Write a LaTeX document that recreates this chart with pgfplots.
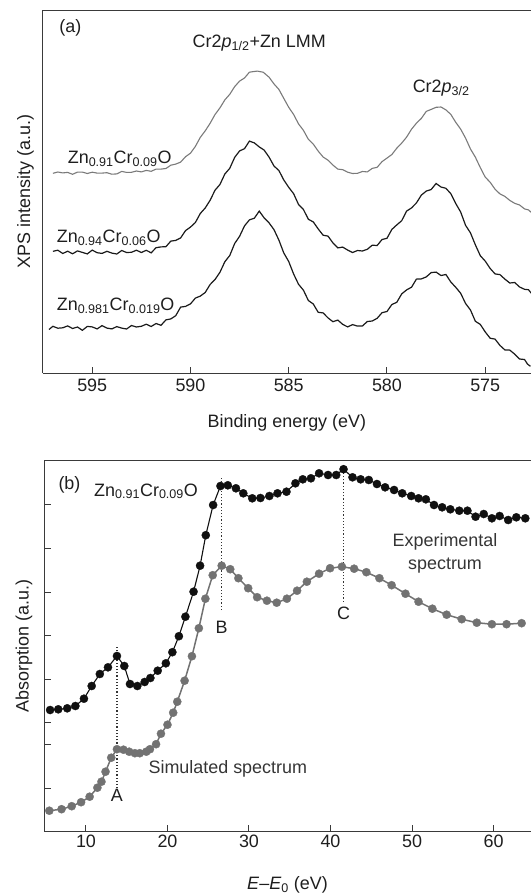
\documentclass[border=0pt]{standalone}
\usepackage{pgfplots}
\pgfplotsset{compat=1.18}
\usepackage{fontspec}
\setmainfont{Liberation Sans}

\definecolor{spine}{HTML}{3A3A3A}
\definecolor{txt}{HTML}{1E1E1E}
\definecolor{xpsgray}{HTML}{7A7A7A}
\definecolor{xpsdark}{HTML}{1A1A1A}
\definecolor{simgray}{HTML}{727272}
\definecolor{expblack}{HTML}{101010}

\pgfplotsset{
  panel/.style={
    scale only axis,
    axis x line*=box, axis y line*=left,
    axis line style={spine, line width=1bp},
    every tick/.style={spine, line width=1bp},
    major tick length=6.5bp,
    tick align=inside,
    xtick pos=left,
    /pgf/number format/assume math mode=true,
    ticklabel style={font=\fontsize{18}{21}\selectfont, text=txt},
    label style={font=\fontsize{18}{21}\selectfont, text=txt},
  },
}

\begin{document}
\begin{tikzpicture}[font=\fontsize{18}{21}\selectfont]
\path[use as bounding box] (0,-895bp) rectangle (531bp,0);

% (a) XPS spectra
\begin{axis}[panel,
  at={(42.7bp,-373.3bp)}, anchor=south west,
  width=488.3bp, height=363.3bp,
  x dir=reverse, xmin=572.67, xmax=597.52,
  ymin=0, ymax=363.3,
  xtick={575,580,585,590,595}, ytick=\empty,
  xticklabel style={yshift=-2bp},
  xlabel={Binding energy (eV)},
  ylabel={XPS intensity (a.u.)},
  xlabel style={at={(axis description cs:0.5,-0.137)}, anchor=center},
  ylabel style={at={(axis description cs:-0.035,0.5)}, anchor=center},
]
% Zn0.91Cr0.09O
\addplot[xpsgray, line width=1.1bp] coordinates {
(597.0,200.0) (596.75,201.3) (596.5,200.4) (596.25,200.9) (596.0,199.0)
(595.75,201.2) (595.5,201.2) (595.25,199.8) (595.0,201.1) (594.75,200.2)
(594.5,200.2) (594.25,200.6) (594.0,199.1) (593.75,199.4) (593.5,201.9)
(593.25,200.9) (593.0,201.0) (592.75,202.3) (592.5,201.4) (592.25,202.9)
(592.0,202.0) (591.75,204.2) (591.5,204.2) (591.25,204.8) (591.0,208.1)
(590.75,209.2) (590.5,211.2) (590.25,216.6) (590.0,220.1) (589.75,226.9)
(589.5,235.9) (589.25,242.4) (589.0,250.0) (588.75,258.8) (588.5,265.4)
(588.25,273.4) (588.0,279.0) (587.75,286.7) (587.5,292.2) (587.25,295.3)
(587.0,301.1) (586.8,301.7) (586.6,302.2) (586.3,301.1) (586.0,296.1)
(585.75,289.4) (585.5,283.9) (585.25,274.9) (585.0,266.0) (584.75,258.8)
(584.5,249.4) (584.25,242.9) (584.0,234.0) (583.75,229.2) (583.5,222.2)
(583.25,216.3) (583.0,213.1) (582.75,208.2) (582.5,204.2) (582.25,203.6)
(582.0,201.1) (581.75,199.8) (581.5,200.0) (581.25,201.8) (581.0,201.4)
(580.75,204.9) (580.5,206.0) (580.25,211.7) (580.0,215.2) (579.75,218.8)
(579.5,225.1) (579.25,230.2) (579.0,236.2) (578.75,244.1) (578.5,250.1)
(578.25,254.9) (578.0,261.9) (577.75,263.9) (577.5,266.0) (577.25,266.3)
(577.0,263.4) (576.75,258.9) (576.5,251.0) (576.25,244.2) (576.0,235.2)
(575.75,224.3) (575.5,216.1) (575.25,205.7) (575.0,196.2) (574.75,191.1)
(574.5,184.1) (574.25,179.4) (574.0,176.9) (573.75,172.9) (573.5,170.0)
(573.25,168.3) (573.0,164.4) (572.8,163.4) (572.6,160.0)
};
% Zn0.94Cr0.06O
\addplot[xpsdark, line width=1.2bp] coordinates {
(597.0,122.0) (596.75,123.1) (596.5,119.8) (596.25,122.1) (596.0,119.5)
(595.75,122.4) (595.5,120.9) (595.25,119.4) (595.0,123.2) (594.75,120.6)
(594.5,119.9) (594.25,122.0) (594.0,120.2) (593.75,119.3) (593.5,122.8)
(593.25,120.8) (593.0,121.0) (592.75,123.1) (592.5,120.8) (592.25,123.0)
(592.0,120.5) (591.75,125.6) (591.5,126.4) (591.25,126.6) (591.0,132.2)
(590.75,132.9) (590.5,135.4) (590.25,142.7) (590.0,146.2) (589.75,150.8)
(589.5,159.8) (589.25,165.3) (589.0,173.0) (588.75,183.1) (588.5,188.8)
(588.25,199.3) (588.0,205.0) (587.75,215.9) (587.5,222.4) (587.25,224.6)
(587.0,232.2) (586.75,230.4) (586.5,226.4) (586.25,223.2) (586.0,216.2)
(585.75,207.3) (585.5,202.8) (585.25,193.3) (585.0,186.0) (584.75,179.6)
(584.5,168.8) (584.25,163.8) (584.0,154.0) (583.75,151.4) (583.5,144.4)
(583.25,138.1) (583.0,137.2) (582.75,130.4) (582.5,125.4) (582.25,126.2)
(582.0,123.2) (581.75,120.8) (581.5,122.8) (581.25,122.3) (581.0,124.0)
(580.75,128.1) (580.5,127.8) (580.25,133.8) (580.0,135.0) (579.75,143.9)
(579.5,148.4) (579.25,152.6) (579.0,162.2) (578.75,165.4) (578.5,170.4)
(578.25,178.2) (578.0,182.2) (577.75,183.8) (577.5,189.8) (577.25,186.3)
(577.0,185.0) (576.75,179.6) (576.5,169.8) (576.25,161.3) (576.0,148.0)
(575.75,140.4) (575.5,128.4) (575.25,117.6) (575.0,112.2) (574.75,104.9)
(574.5,99.4) (574.25,98.7) (574.0,94.2) (573.75,90.3) (573.5,90.8)
(573.25,86.3) (573.0,84.0) (572.8,83.6) (572.6,78.8)
};
% Zn0.981Cr0.019O
\addplot[xpsdark, line width=1.2bp] coordinates {
(597.2,43.8) (597.0,47.0) (596.75,45.1) (596.5,45.5) (596.25,47.4)
(596.0,44.8) (595.75,46.3) (595.5,43.0) (595.25,46.9) (595.0,46.4)
(594.75,44.4) (594.5,47.7) (594.25,45.2) (594.0,44.4) (593.75,46.7)
(593.5,45.2) (593.25,44.3) (593.0,47.8) (592.75,46.3) (592.5,47.0)
(592.25,49.1) (592.0,46.8) (591.75,49.8) (591.5,48.0) (591.25,53.4)
(591.0,54.4) (590.75,57.6) (590.5,66.2) (590.25,66.9) (590.0,69.4)
(589.75,75.2) (589.5,77.2) (589.25,80.8) (589.0,88.8) (588.75,93.8)
(588.5,101.0) (588.25,111.6) (588.0,117.8) (587.75,129.8) (587.5,137.0)
(587.25,147.4) (587.0,153.4) (586.75,155.1) (586.5,162.2) (586.25,155.4)
(586.0,150.4) (585.75,143.7) (585.5,133.2) (585.25,120.3) (585.0,111.8)
(584.75,99.3) (584.5,89.0) (584.25,83.1) (584.0,72.8) (583.75,69.3)
(583.5,61.0) (583.25,60.4) (583.0,55.4) (582.75,51.6) (582.5,53.2)
(582.25,48.9) (582.0,46.4) (581.75,48.7) (581.5,47.2) (581.25,47.3)
(581.0,51.8) (580.75,52.3) (580.5,55.0) (580.25,60.6) (580.0,61.8)
(579.75,68.8) (579.5,71.0) (579.25,79.4) (579.0,83.4) (578.75,86.1)
(578.5,94.2) (578.25,94.4) (578.0,96.4) (577.75,100.7) (577.5,101.2)
(577.25,97.8) (577.0,98.8) (576.75,91.3) (576.5,86.0) (576.25,80.1)
(576.0,69.8) (575.75,63.3) (575.5,52.0) (575.25,48.9) (575.0,41.4)
(574.75,35.1) (574.5,34.2) (574.25,27.9) (574.0,23.4) (573.75,23.2)
(573.5,19.2) (573.25,14.3) (573.0,13.8) (572.85,9.3) (572.7,7.0)
};
\node[anchor=west, text=txt] at (axis cs:596.85,345.3) {(a)};
\node[text=txt] at (axis cs:586.5,330.3) {Cr2\textit{p}\textsubscript{1/2}+Zn LMM};
\node[text=txt] at (axis cs:577.24,285.3) {Cr2\textit{p}\textsubscript{3/2}};
\node[anchor=base west, text=txt] at (axis cs:596.42,210) {Zn\textsubscript{0.91}Cr\textsubscript{0.09}O};
\node[anchor=base west, text=txt] at (axis cs:596.98,131) {Zn\textsubscript{0.94}Cr\textsubscript{0.06}O};
\node[anchor=base west, text=txt] at (axis cs:596.98,62.6) {Zn\textsubscript{0.981}Cr\textsubscript{0.019}O};
\end{axis}

% (b) absorption spectra
\begin{axis}[panel,
  at={(44bp,-831.7bp)}, anchor=south west,
  width=487bp, height=371bp,
  xmin=4.85, xmax=64.6, ymin=0, ymax=371,
  xtick={10,20,...,60},
  ytick={43.7,87.7,109.7,152.7,196.7,239.7,283.7,327.7},
  yticklabels={},
  xlabel={\textit{E}–\textit{E}\textsubscript{0} (eV)},
  ylabel={Absorption (a.u.)},
  xlabel style={at={(axis description cs:0.5,-0.1437)}, anchor=center},
  ylabel style={at={(axis description cs:-0.041,0.5)}, anchor=center},
]
% simulated spectrum
\addplot[simgray, line width=1.5bp, mark=*, mark size=4.1bp,
  mark options={fill=simgray, draw=simgray, line width=0.3bp}] coordinates {
(5.5,21) (7.0,22.5) (8.25,25.5) (9.4,29.5) (10.45,35) (11.4,44) (11.9,50)
(12.4,60) (13.1,74) (13.8,82.5) (14.6,82) (15.3,80) (16.0,78.5) (16.6,78.5)
(17.4,80) (17.85,82.5) (18.6,87.5) (19.2,98) (20.0,107) (20.7,119) (21.2,130)
(22.1,151) (23.0,175.5) (23.85,203.5) (24.65,233) (25.55,256.5) (26.65,266)
(27.7,262.5) (28.7,253.5) (29.9,243.5) (31.0,234.5) (32.2,231) (33.4,229)
(34.65,233) (35.9,241) (37.1,250) (38.6,258) (39.95,263.5) (41.4,265)
(42.9,263) (44.4,259.5) (46.0,253.5) (47.5,246.5) (49.2,238) (50.8,230)
(52.5,223) (54.25,217) (56.1,212.5) (57.95,209) (59.8,207.5) (61.6,207.5)
(63.45,208.5)
};
% experimental spectrum
\addplot[expblack, line width=1.1bp, mark=*, mark size=4.1bp,
  mark options={fill=expblack, draw=expblack, line width=0.3bp}] coordinates {
(5.6,121.7) (6.6,122.4) (7.7,123.4) (8.7,125.7) (9.75,133) (10.7,145.7)
(11.7,157.7) (12.7,164.4) (13.8,175.7) (14.7,165.7) (15.4,147.7) (16.3,145.7)
(17.2,149.7) (17.9,153.7) (18.8,161) (19.8,168.4) (20.6,179.5) (21.4,195.5)
(22.2,215) (23.2,240) (24.0,266) (24.7,296.5) (25.6,326.7) (26.5,345.7)
(27.4,346.4) (28.4,343.4) (29.3,338.4) (30.4,333.4) (31.4,333.7) (32.5,335.7)
(33.5,338.4) (34.6,340) (35.7,348.4) (36.6,352.4) (37.6,353.4) (38.6,358.4)
(39.7,356.7) (40.7,356.7) (41.6,362.5) (42.7,354.4) (43.7,352.4) (44.7,351.7)
(45.7,347.7) (46.7,344.4) (47.8,341.7) (48.8,338.4) (49.9,335.7) (50.8,333.4)
(51.7,332.4) (52.7,326.7) (53.7,324.4) (54.7,322.4) (55.8,321) (56.8,321)
(57.8,315) (58.8,317.7) (59.8,313.4) (60.75,315.7) (61.8,311.7) (62.8,314.4)
(63.9,313.4)
};
% peak markers A, B, C
\addplot[black!80, line width=1.2bp, dotted] coordinates {(13.8,43.4) (13.8,185)};
\addplot[black!80, line width=1.2bp, dotted] coordinates {(26.6,221.7) (26.6,355.7)};
\addplot[black!80, line width=1.2bp, dotted] coordinates {(41.6,230) (41.6,364.4)};
\node[text=txt] at (axis cs:13.8,36.7) {A};
\node[text=txt] at (axis cs:26.64,204.4) {B};
\node[text=txt] at (axis cs:41.6,218.4) {C};
\node[anchor=west, text=txt] at (axis cs:6.2,346.7) {(b)};
\node[anchor=base west, text=txt] at (axis cs:10.58,335.7) {Zn\textsubscript{0.91}Cr\textsubscript{0.09}O};
\node[align=center, text=txt!90!white, font=\fontsize{18}{23.3}\selectfont] at (axis cs:54.05,278.4) {Experimental\\spectrum};
\node[text=txt!90!white] at (axis cs:27.4,62.4) {Simulated spectrum};
\end{axis}
\end{tikzpicture}
\end{document}
